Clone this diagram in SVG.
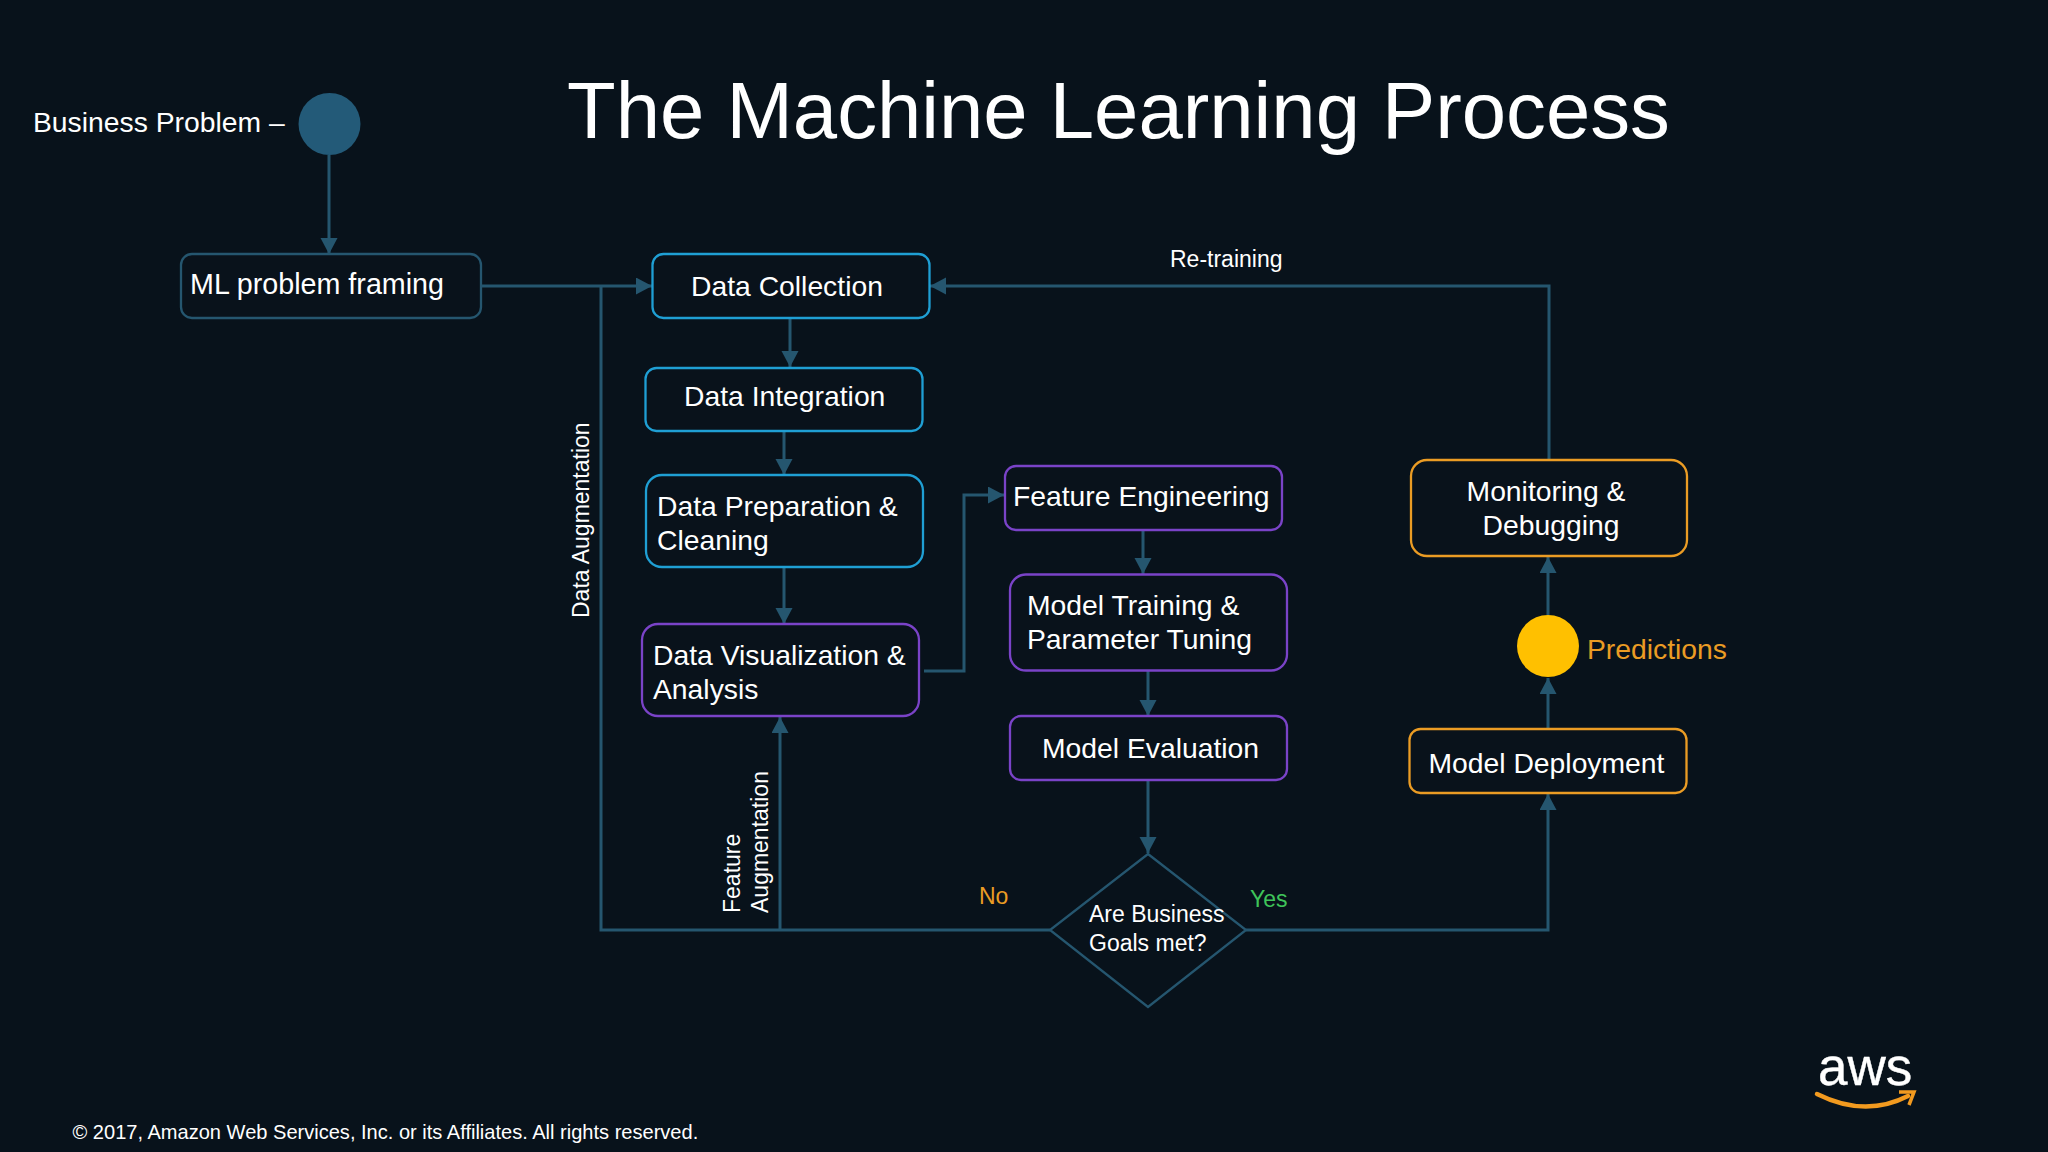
<svg xmlns="http://www.w3.org/2000/svg" width="2048" height="1152" viewBox="0 0 2048 1152">
<style>
text{font-family:"Liberation Sans",Arial,sans-serif;fill:#fff}
.t{font-size:28.3px}
.s{font-size:23px}
.box{fill:#09121b;stroke-width:2.3}
.b{stroke:#1f9fd4}.p{stroke:#7a43c8}.o{stroke:#eb9c24}.n{stroke:#25566f}
.c{fill:none;stroke:#25566f;stroke-width:3}
</style>
<defs><marker id="a" markerUnits="userSpaceOnUse" markerWidth="18" markerHeight="18" refX="16" refY="8.5" orient="auto"><path d="M0 0L16 8.5L0 17Z" fill="#25566f"/></marker></defs>
<rect width="2048" height="1152" fill="#08121b"/>
<text x="567" y="138" font-size="79.7" id="title">The Machine Learning Process</text>
<text x="33" y="132" font-size="28.3">Business Problem –</text>
<g id="connectors">
<path class="c" marker-end="url(#a)" d="M329 155V254"/>
<path class="c" marker-end="url(#a)" d="M481 286H652"/>
<path class="c" d="M601 286V930H1050"/>
<path class="c" marker-end="url(#a)" d="M780 930V717"/>
<path class="c" marker-end="url(#a)" d="M790 318V367"/>
<path class="c" marker-end="url(#a)" d="M784 431V475"/>
<path class="c" marker-end="url(#a)" d="M784 567V624"/>
<path class="c" marker-end="url(#a)" d="M924 671H964V495H1004"/>
<path class="c" marker-end="url(#a)" d="M1143 530V574"/>
<path class="c" marker-end="url(#a)" d="M1148 670V716"/>
<path class="c" marker-end="url(#a)" d="M1148 780V853"/>
<path class="c" marker-end="url(#a)" d="M1246 930H1548V794"/>
<path class="c" marker-end="url(#a)" d="M1548 729V678"/>
<path class="c" marker-end="url(#a)" d="M1548 615V557"/>
<path class="c" marker-end="url(#a)" d="M1549 460V286H930"/>
</g>
<g id="start"><circle cx="329.500" cy="124" r="31" fill="#235a78"/></g>
<g id="ml"><rect class="box n" x="181" y="254" width="300" height="64" rx="11"/><text x="190" y="294" font-size="28.700">ML problem framing</text></g>
<g id="collection"><rect class="box b" x="652.500" y="254" width="277" height="64" rx="11"/><text class="t" x="691" y="296">Data Collection</text></g>
<g id="integration"><rect class="box b" x="645.500" y="368" width="277" height="63" rx="11"/><text class="t" x="684" y="405.500">Data Integration</text></g>
<g id="preparation"><rect class="box b" x="646" y="475" width="277" height="92" rx="16"/><text class="t" x="657" y="516">Data Preparation &amp;</text><text class="t" x="657" y="549.500">Cleaning</text></g>
<g id="visualization"><rect class="box p" x="642" y="624" width="277" height="92" rx="16"/><text class="t" x="653" y="665">Data Visualization &amp;</text><text class="t" x="653" y="699">Analysis</text></g>
<g id="feature"><rect class="box p" x="1005" y="466" width="277" height="64" rx="11"/><text class="t" x="1013" y="505.500">Feature Engineering</text></g>
<g id="training"><rect class="box p" x="1010" y="574.500" width="277" height="96" rx="16"/><text class="t" x="1027" y="614.500">Model Training &amp;</text><text class="t" x="1027" y="648.500">Parameter Tuning</text></g>
<g id="evaluation"><rect class="box p" x="1010" y="716" width="277" height="64" rx="11"/><text class="t" x="1042" y="757.500">Model Evaluation</text></g>
<g id="decision"><path class="n" fill="none" stroke-width="2.3" d="M1148 854L1246 930L1148 1007L1050 930Z"/><text class="s" x="1089" y="922">Are Business</text><text class="s" x="1089" y="950.500">Goals met?</text></g>
<g id="deployment"><rect class="box o" x="1409.500" y="729" width="277" height="64" rx="11"/><text class="t" x="1428.500" y="772.500">Model Deployment</text></g>
<g id="predictions"><circle cx="1548" cy="646" r="31" fill="#ffc000"/><text class="t" x="1587" y="659" style="fill:#eb9c24">Predictions</text></g>
<g id="monitoring"><rect class="box o" x="1411" y="460" width="276" height="96" rx="16"/><text class="t" x="1546" y="500.500" text-anchor="middle">Monitoring &amp;</text><text class="t" x="1551" y="534.500" text-anchor="middle">Debugging</text></g>
<text class="s" x="1170" y="266.500">Re-training</text>
<text class="s" x="979" y="904" style="fill:#eb9c24">No</text>
<text class="s" x="1250" y="907" style="fill:#3fc45a">Yes</text>
<text class="s" transform="translate(589 618) rotate(-90)">Data Augmentation</text>
<text class="s" transform="translate(740 913) rotate(-90)">Feature</text>
<text class="s" transform="translate(768 913) rotate(-90)">Augmentation</text>
<text x="72.500" y="1139" font-size="20.060">© 2017, Amazon Web Services, Inc. or its Affiliates. All rights reserved.</text>
<g id="aws"><text x="1818" y="1085" font-size="53" stroke="#fff" stroke-width=".4">aws</text><path d="M1817 1094Q1865 1118 1908 1096" fill="none" stroke="#f29a1f" stroke-width="4.500" stroke-linecap="round"/><path d="M1899 1092L1914 1092L1909 1105" fill="none" stroke="#f29a1f" stroke-width="3.500"/></g>
</svg>
